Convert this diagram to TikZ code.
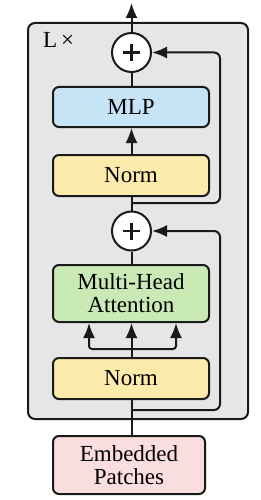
\documentclass[tikz,border=0pt]{standalone}
\usepackage{fontspec}
\setmainfont{Liberation Serif}
\usetikzlibrary{arrows.meta,calc}
\definecolor{grayfill}{HTML}{E6E6E6}
\definecolor{mlpfill}{HTML}{C7E3F6}
\definecolor{normfill}{HTML}{FCEBAB}
\definecolor{mhafill}{HTML}{C9E9B5}
\definecolor{embfill}{HTML}{FADDDE}
\definecolor{edge}{HTML}{1A1A1A}
\begin{document}
\begin{tikzpicture}[x=1pt,y=-1pt,
  every node/.style={font=\fontsize{23}{23}\selectfont},
  blockbox/.style={draw=edge,line width=2pt,rounded corners=6pt,minimum width=156pt,align=center,inner sep=0pt},
  plusnode/.style={circle,draw=edge,fill=white,line width=2pt,minimum size=39pt,inner sep=0pt},
  conn/.style={draw=edge,line width=2pt},
  arr/.style={conn,-{Latex[length=15pt,width=12pt]}},
  plusbar/.style={draw=edge,line width=2.2pt}]
\useasboundingbox (0,0) rectangle (261,500);
\node[draw=edge,fill=grayfill,line width=2pt,rounded corners=7pt,minimum width=220pt,minimum height=396pt,inner sep=0pt] (outer) at (138,221) {};
\node[anchor=base west,inner sep=0pt] (lx) at (43,48) {L\,×};
\node[plusnode] (p1) at (131.5,52.5) {};
\node[blockbox,fill=mlpfill,minimum height=40pt] (mlp) at (131,107) {MLP};
\node[blockbox,fill=normfill,minimum height=41pt] (n1) at (131,175.5) {Norm};
\node[plusnode] (p2) at (131.5,231) {};
\node[blockbox,fill=mhafill,minimum height=57pt] (mha) at (131,293.5) {Multi-Head\\Attention};
\node[blockbox,fill=normfill,minimum height=41pt] (n2) at (131,378.5) {Norm};
\node[blockbox,fill=embfill,minimum height=58pt,minimum width=152pt] (emb) at (129,465) {Embedded\\Patches};
% plus signs
\draw[plusbar] ($(p1.center)+(-8.5,0)$) -- ($(p1.center)+(8.5,0)$) ($(p1.center)+(0,-8.5)$) -- ($(p1.center)+(0,8.5)$);
\draw[plusbar] ($(p2.center)+(-8.5,0)$) -- ($(p2.center)+(8.5,0)$) ($(p2.center)+(0,-8.5)$) -- ($(p2.center)+(0,8.5)$);
\coordinate (top) at (131.5,3);
\coordinate (b1) at (131.5,203);
\coordinate (b2) at (131.5,410);
\coordinate (h) at (131.5,349);
\coordinate (hl) at (89,349);
\coordinate (hr) at (176,349);
% main path
\draw[conn] (emb.north -| b2) -- (n2.south -| b2);
\draw[arr] (n1.north -| b1) -- (mlp.south -| b1);
\draw[conn] (mlp.north -| p1) -- (p1.south);
\draw[arr] (p1.north) -- (top);
\draw[conn] (p2.north) -- (n1.south -| p2);
\draw[conn] (mha.north -| p2) -- (p2.south);
% attention inputs
\draw[arr] (n2.north -| h) -- (mha.south -| h);
\draw[arr,rounded corners=3pt] (h) -- (hl) -- (mha.south -| hl);
\draw[arr,rounded corners=3pt] (h) -- (hr) -- (mha.south -| hr);
% residuals
\draw[arr,rounded corners=6pt] (b2) -- (220,410) -- (220,231) -- (p2.east);
\draw[arr,rounded corners=6pt] (b1) -- (220,203) -- (220,52.5) -- (p1.east);
\end{tikzpicture}
\end{document}
